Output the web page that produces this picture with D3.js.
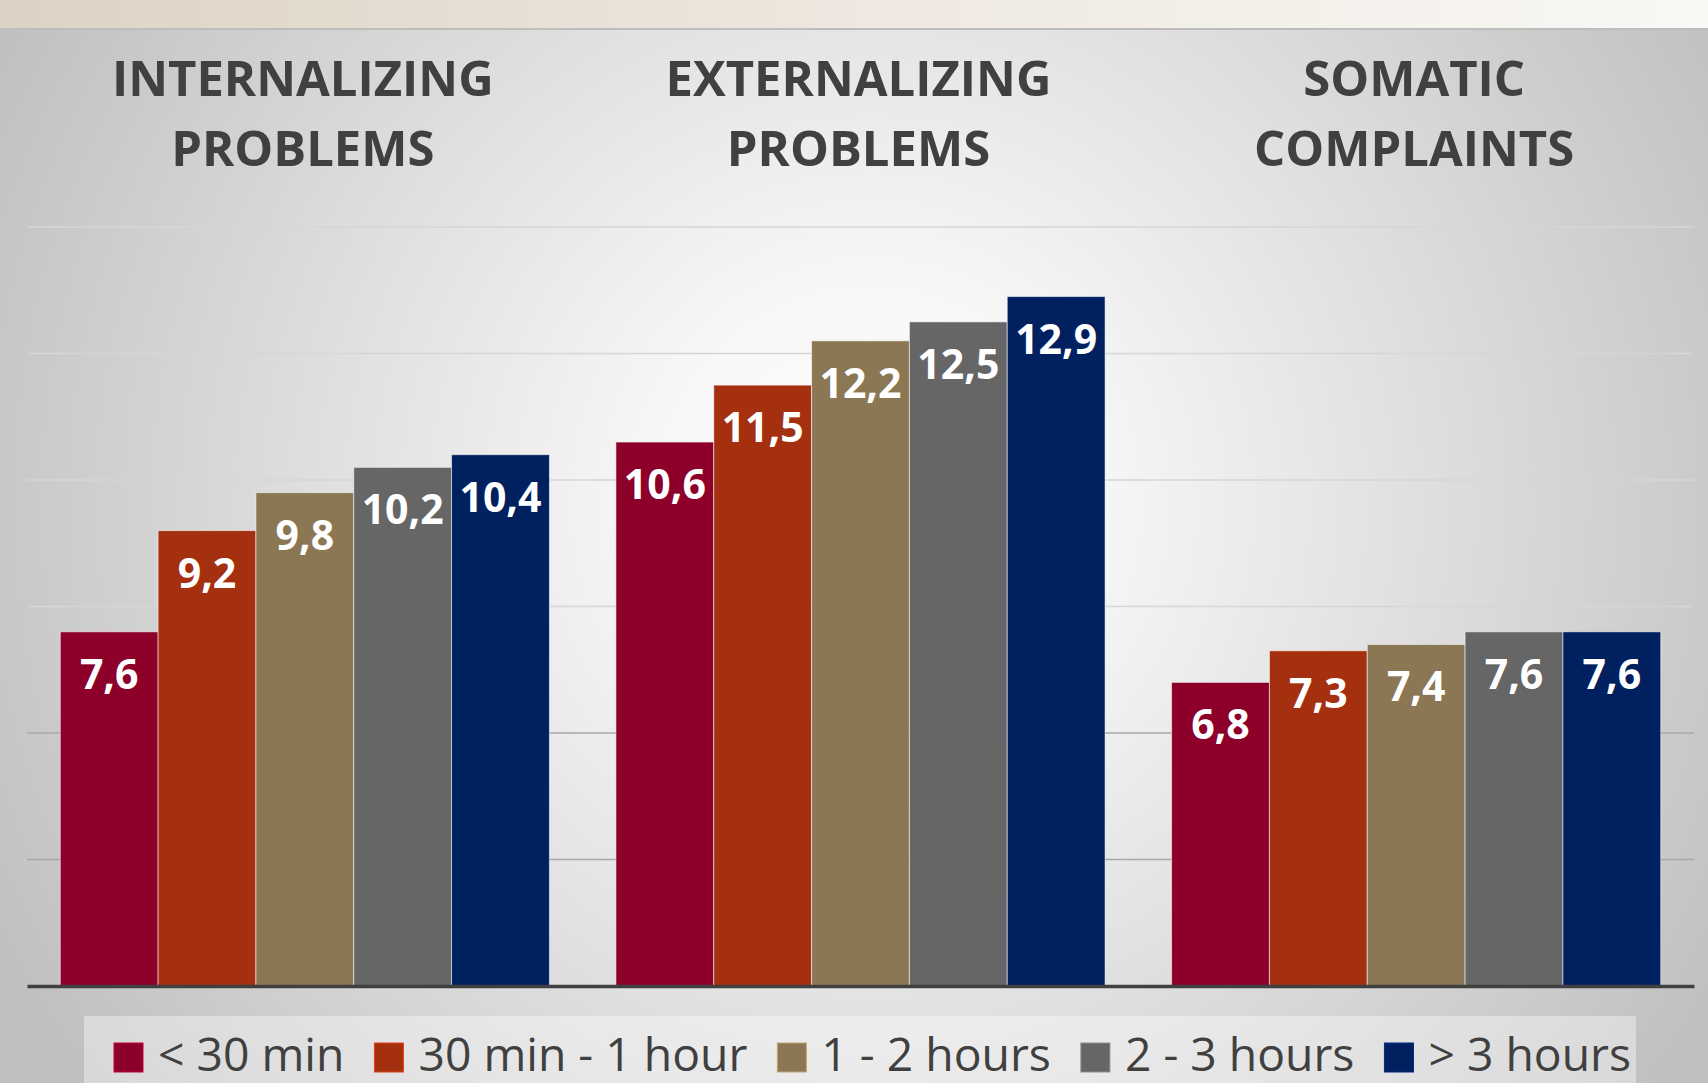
<!DOCTYPE html>
<html>
<head>
<meta charset="utf-8">
<script src="https://cdn.jsdelivr.net/npm/d3@7"></script>
<style>
  html, body { margin: 0; padding: 0; background: #d0d0d0; overflow: hidden; }
  .chart-title { font-family: 'Open Sans', sans-serif; font-weight: 700; fill: #404040; }
  .chart-value { font-family: 'Open Sans', sans-serif; font-weight: 700; fill: #ffffff; }
  .chart-legend-label { font-family: 'Open Sans', sans-serif; font-weight: 400; fill: #404040; }
</style>
</head>
<body>
<div id="chartContainer"></div>
<script>
// Problem scores by daily screen time - grouped bar chart.

const categories = ['Internalizing problems', 'Externalizing problems', 'Somatic complaints'];
const categoryTitles = [
  ['INTERNALIZING', 'PROBLEMS'],
  ['EXTERNALIZING', 'PROBLEMS'],
  ['SOMATIC', 'COMPLAINTS']
];
const seriesNames = ['< 30 min', '30 min - 1 hour', '1 - 2 hours', '2 - 3 hours', '> 3 hours'];
const under30min = [7.6, 10.6, 6.8];
const min30to1h = [9.2, 11.5, 7.3];
const hours1to2 = [9.8, 12.2, 7.4];
const hours2to3 = [10.2, 12.5, 7.6];
const over3h = [10.4, 12.9, 7.6];
const yDomain = [2, 14];
const yTicks = [2, 4, 6, 8, 10, 12, 14];

const seriesValues = [under30min, min30to1h, hours1to2, hours2to3, over3h];
const seriesColors = ['#8c0029', '#a4300f', '#8c7754', '#666666', '#00205f'];

const width = 1708;
const height = 1083;
const margin = { top: 227, right: 14, bottom: 97, left: 27 };
const innerWidth = width - margin.left - margin.right;
const innerHeight = height - margin.top - margin.bottom;

const svg = d3.select('#chartContainer')
  .append('svg')
  .attr('width', width)
  .attr('height', height);

const defs = svg.append('defs');

const bgGrad = defs.append('radialGradient')
  .attr('id', 'bgGrad')
  .attr('gradientUnits', 'userSpaceOnUse')
  .attr('cx', 870).attr('cy', 500).attr('r', 980);
bgGrad.append('stop').attr('offset', '0').attr('stop-color', '#ffffff');
bgGrad.append('stop').attr('offset', '0.22').attr('stop-color', '#f7f7f7');
bgGrad.append('stop').attr('offset', '0.55').attr('stop-color', '#e0e0e0');
bgGrad.append('stop').attr('offset', '1').attr('stop-color', '#c0c0c0');

const bandGrad = defs.append('linearGradient')
  .attr('id', 'bandGrad')
  .attr('x1', 0).attr('x2', 1).attr('y1', 0).attr('y2', 0);
bandGrad.append('stop').attr('offset', '0').attr('stop-color', '#ddd3c4');
bandGrad.append('stop').attr('offset', '0.5').attr('stop-color', '#eee8e0');
bandGrad.append('stop').attr('offset', '1').attr('stop-color', '#f9f8f5');

svg.append('rect')
  .attr('width', width).attr('height', height)
  .attr('fill', 'url(#bgGrad)');

svg.append('rect')
  .attr('width', width).attr('height', 28)
  .attr('fill', 'url(#bandGrad)');

svg.append('rect')
  .attr('y', 28).attr('width', width).attr('height', 2)
  .attr('fill', '#bdbdbd');

const g = svg.append('g')
  .attr('transform', `translate(${margin.left},${margin.top})`);

const x0 = d3.scaleBand()
  .domain(categories)
  .range([0, innerWidth])
  .padding(0);

const x1 = d3.scaleBand()
  .domain(seriesNames)
  .range([0, x0.bandwidth()])
  .paddingInner(0)
  .paddingOuter(0.34);

const y = d3.scaleLinear()
  .domain(yDomain)
  .range([innerHeight, 0]);

const gridColor = d3.scaleLinear()
  .domain([6, 8])
  .range(['#a8a8a8', '#d6d6d6'])
  .clamp(true);

// gridlines
g.selectAll('.chart-grid')
  .data(yTicks.filter(t => t > yDomain[0]))
  .enter().append('line')
  .attr('class', 'chart-grid')
  .attr('x1', 0)
  .attr('x2', innerWidth)
  .attr('y1', d => y(d))
  .attr('y2', d => y(d))
  .attr('stroke', d => gridColor(d))
  .attr('stroke-width', 1.5);

const fmt = d3.formatLocale({ decimal: ',', thousands: '.', grouping: [3], currency: ['', ''] }).format('.1f');

const rows = [];
categories.forEach((c, ci) => {
  seriesNames.forEach((s, si) => {
    rows.push({ category: c, series: s, value: seriesValues[si][ci], color: seriesColors[si] });
  });
});

const bars = g.selectAll('.chart-bar-group')
  .data(rows)
  .enter().append('g')
  .attr('class', 'chart-bar-group');

bars.append('rect')
  .attr('x', d => x0(d.category) + x1(d.series))
  .attr('y', d => y(d.value))
  .attr('width', x1.bandwidth())
  .attr('height', d => innerHeight - y(d.value))
  .attr('fill', d => d.color)
  .attr('stroke', 'rgba(255,255,255,0.55)')
  .attr('stroke-width', 1);

bars.append('text')
  .attr('class', 'chart-value')
  .attr('x', d => x0(d.category) + x1(d.series) + x1.bandwidth() / 2)
  .attr('y', d => y(d.value) + 57)
  .attr('text-anchor', 'middle')
  .attr('font-size', 41)
  .text(d => fmt(d.value));

// baseline axis
g.append('g')
  .attr('transform', `translate(0,${innerHeight})`)
  .call(d3.axisBottom(x0).tickSize(0).tickFormat(''))
  .call(a => a.select('.domain').attr('stroke', '#404040').attr('stroke-width', 3.5));

// group titles
const titles = svg.selectAll('.chart-title')
  .data(categories)
  .enter().append('text')
  .attr('class', 'chart-title')
  .attr('text-anchor', 'middle')
  .attr('font-size', 49)
  .attr('x', d => margin.left + x0(d) + x0.bandwidth() / 2 - 2);

titles.selectAll('tspan')
  .data((d, i) => categoryTitles[i].map((t, k) => ({ t, k })))
  .enter().append('tspan')
  .attr('x', function() { return d3.select(this.parentNode).attr('x'); })
  .attr('y', d => 96 + d.k * 70)
  .text(d => d.t);

// legend
const legendBox = { x: 84, y: 1016, w: 1552, h: 80 };
svg.append('rect')
  .attr('x', legendBox.x).attr('y', legendBox.y)
  .attr('width', legendBox.w).attr('height', legendBox.h)
  .attr('fill', 'rgba(255,255,255,0.38)');

const legend = svg.append('g')
  .attr('transform', 'translate(114,0)');
const swatch = 29;
let lx = 0;
seriesNames.forEach((name, i) => {
  const item = legend.append('g').attr('transform', `translate(${lx},0)`);
  item.append('rect')
    .attr('x', 0).attr('y', 1043)
    .attr('width', swatch).attr('height', swatch)
    .attr('fill', seriesColors[i])
    .attr('stroke', d3.color(seriesColors[i]).brighter(0.9))
    .attr('stroke-width', 1);
  const label = item.append('text')
    .attr('class', 'chart-legend-label')
    .attr('x', swatch + 15)
    .attr('y', 1071)
    .attr('font-size', 46.3)
    .text(name);
  lx += swatch + 15 + label.node().getComputedTextLength() + 30;
});
</script>
</body>
</html>
